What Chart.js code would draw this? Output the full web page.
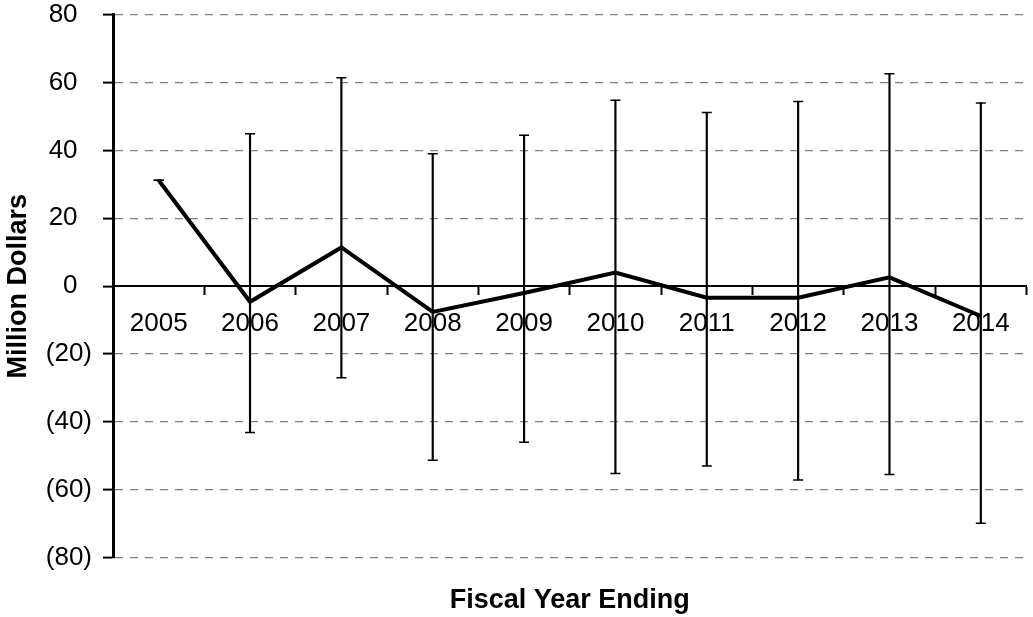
<!DOCTYPE html>
<html>
<head>
<meta charset="utf-8">
<title>Fiscal Year Ending</title>
<script src="https://cdn.jsdelivr.net/npm/chart.js@4.4.1/dist/chart.umd.min.js"></script>
<style>
    body { margin: 0; background: #fff; }
    #wrap { width: 1033px; height: 617px; }
</style>
</head>
<body>
<div id="wrap"><canvas id="fyChart"></canvas></div>
<script>
const years = ['2005', '2006', '2007', '2008', '2009', '2010', '2011', '2012', '2013', '2014'];
const netValues = [31.2, -4.6, 11.4, -7.6, -2.0, 4.0, -3.4, -3.4, 2.6, -8.8];
const errHigh = [31.2, 44.9, 61.4, 39.0, 44.5, 54.8, 51.2, 54.4, 62.6, 54.0];
const errLow = [31.2, -43.1, -27.0, -51.3, -46.0, -55.2, -53.0, -57.1, -55.5, -69.9];

const fontFamily = '"Liberation Sans", Arial, sans-serif';

document.addEventListener('DOMContentLoaded', function () {
    drawChart();
});

function drawChart() {
    var ctx = document.getElementById('fyChart').getContext('2d');

    // error bar stems as floating bars, caps as line-shaped points
    const ranges = years.map((y, i) => [errLow[i], errHigh[i]]);

    var fyChart = new Chart(ctx, {
        type: 'bar',
        data: {
            labels: years,
            datasets: [
                {
                    type: 'line',
                    data: netValues,
                    borderColor: '#000',
                    borderWidth: 4,
                    pointRadius: 0,
                    tension: 0,
                    order: 0
                },
                {
                    type: 'line',
                    data: errHigh,
                    showLine: false,
                    pointStyle: 'line',
                    pointRadius: 5,
                    pointBorderWidth: 1.5,
                    pointBorderColor: '#000',
                    order: 1
                },
                {
                    type: 'line',
                    data: errLow,
                    showLine: false,
                    pointStyle: 'line',
                    pointRadius: 5,
                    pointBorderWidth: 1.5,
                    pointBorderColor: '#000',
                    order: 2
                },
                {
                    type: 'bar',
                    data: ranges,
                    backgroundColor: '#000',
                    borderWidth: 0,
                    barThickness: 1.5,
                    grouped: false,
                    order: 3
                }
            ]
        },
        options: {
            responsive: true,
            maintainAspectRatio: false,
            animation: false,
            events: [],
            layout: {
                padding: { left: 0, right: 5, top: 0, bottom: 0 }
            },
            plugins: {
                legend: { display: false },
                tooltip: { enabled: false }
            },
            scales: {
                x: {
                    type: 'category',
                    position: { y: 0 },
                    offset: true,
                    grid: {
                        drawOnChartArea: false,
                        drawTicks: true,
                        tickLength: 8,
                        tickColor: '#000',
                        tickWidth: 2,
                        offset: true
                    },
                    border: { display: true, color: '#000', width: 2 },
                    ticks: {
                        color: '#000',
                        font: { family: fontFamily, size: 26 },
                        padding: 14,
                        maxRotation: 0,
                        autoSkip: false
                    }
                },
                x2: {
                    type: 'category',
                    position: 'bottom',
                    labels: years,
                    grid: { display: false, drawTicks: false },
                    border: { display: false },
                    ticks: { display: false },
                    title: {
                        display: true,
                        text: 'Fiscal Year Ending',
                        color: '#000',
                        font: { family: fontFamily, size: 27, weight: 'bold' },
                        padding: { top: 27, bottom: 0 }
                    }
                },
                y: {
                    min: -80,
                    max: 80,
                    afterFit: function (scale) {
                        scale.width = 113;
                        scale.paddingTop = 14.7;
                        scale.paddingBottom = 0;
                    },
                    ticks: {
                        stepSize: 20,
                        color: '#000',
                        padding: 11,
                        font: { family: fontFamily, size: 26 },
                        callback: function (v) {
                            return v < 0 ? '(' + Math.abs(v) + ')' : v + '  ';
                        }
                    },
                    grid: {
                        color: function (c) {
                            return c.tick && c.tick.value === 0 ? 'rgba(0,0,0,0)' : '#808080';
                        },
                        lineWidth: 1.2,
                        drawTicks: true,
                        tickLength: 10,
                        tickColor: '#000',
                        tickWidth: 2,
                        tickBorderDash: []
                    },
                    border: { display: true, color: '#000', width: 3, dash: [8, 7] },
                    title: {
                        display: true,
                        text: 'Million Dollars',
                        color: '#000',
                        font: { family: fontFamily, size: 27, weight: 'bold' },
                        padding: { top: 2, bottom: 4 }
                    }
                }
            }
        }
    });
}
</script>
</body>
</html>
